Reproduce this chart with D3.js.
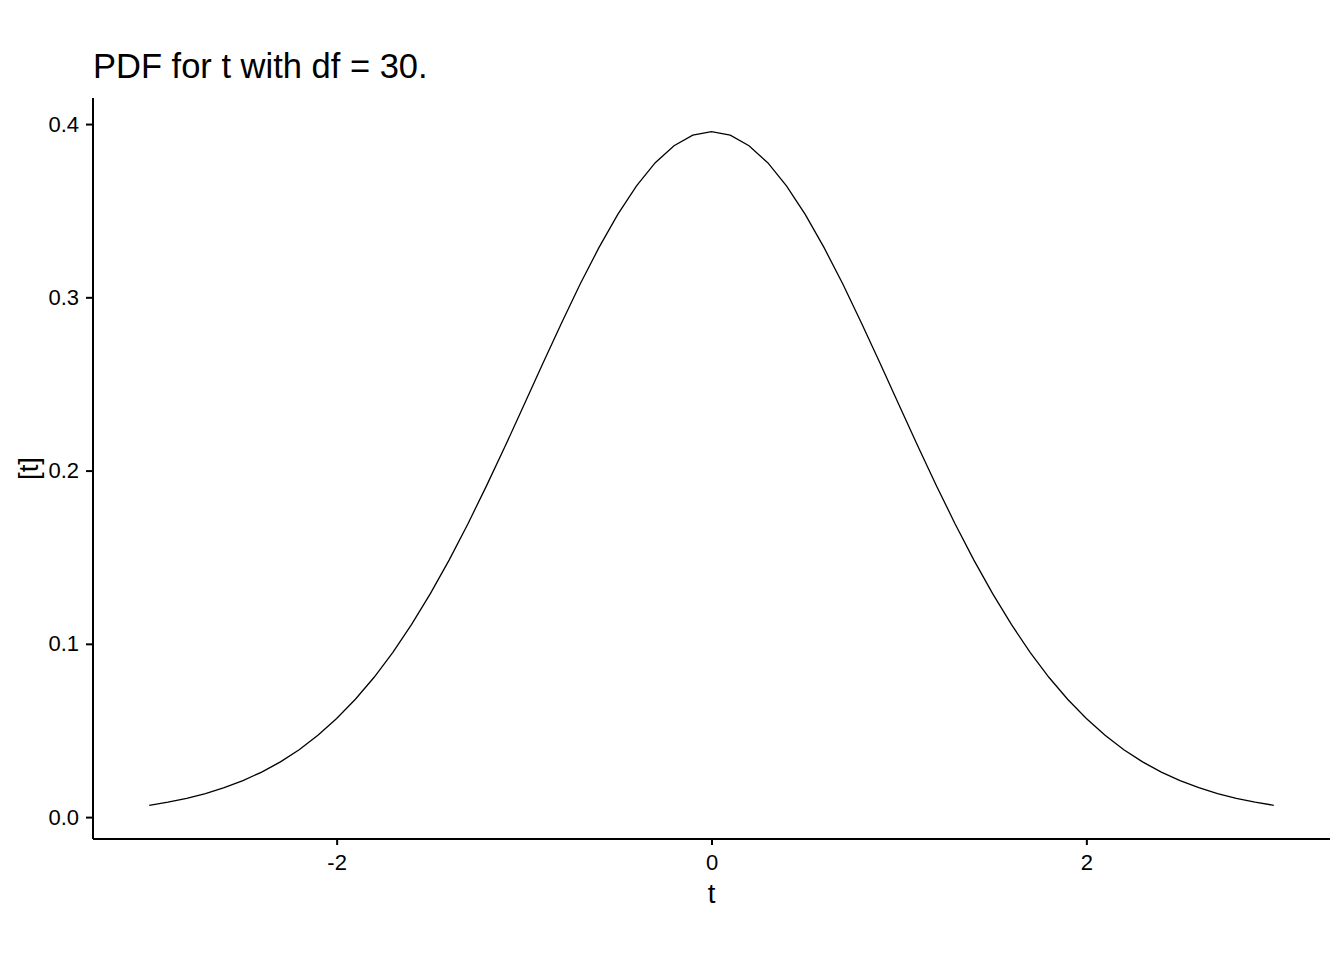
<!DOCTYPE html>
<html>
<head>
<meta charset="utf-8">
<script src="https://cdn.jsdelivr.net/npm/d3@7"></script>
<style>
  body { margin: 0; background: #fff; }
  text { font-family: "Liberation Sans", Arial, sans-serif; fill: #000; }
</style>
</head>
<body>
<div id="chart"></div>
<script>
// t values and density (df = 30)
var tValues = [-3.0, -2.9, -2.8, -2.7, -2.6, -2.5, -2.4, -2.3, -2.2, -2.1,
               -2.0, -1.9, -1.8, -1.7, -1.6, -1.5, -1.4, -1.3, -1.2, -1.1,
               -1.0, -0.9, -0.8, -0.7, -0.6, -0.5, -0.4, -0.3, -0.2, -0.1,
               0.0, 0.1, 0.2, 0.3, 0.4, 0.5, 0.6, 0.7, 0.8, 0.9,
               1.0, 1.1, 1.2, 1.3, 1.4, 1.5, 1.6, 1.7, 1.8, 1.9,
               2.0, 2.1, 2.2, 2.3, 2.4, 2.5, 2.6, 2.7, 2.8, 2.9, 3.0];
var density = [0.0068, 0.0086, 0.0108, 0.0136, 0.0170, 0.0211, 0.0260, 0.0319, 0.0389, 0.0472,
               0.0569, 0.0680, 0.0807, 0.0951, 0.1112, 0.1290, 0.1483, 0.1692, 0.1913, 0.2143,
               0.2380, 0.2618, 0.2852, 0.3078, 0.3288, 0.3479, 0.3643, 0.3777, 0.3875, 0.3936,
               0.3956, 0.3936, 0.3875, 0.3777, 0.3643, 0.3479, 0.3288, 0.3078, 0.2852, 0.2618,
               0.2380, 0.2143, 0.1913, 0.1692, 0.1483, 0.1290, 0.1112, 0.0951, 0.0807, 0.0680,
               0.0569, 0.0472, 0.0389, 0.0319, 0.0260, 0.0211, 0.0170, 0.0136, 0.0108, 0.0086, 0.0068];
var xTicks = [-2, 0, 2];
var yTicks = [0.0, 0.1, 0.2, 0.3, 0.4];
var title = "PDF for t with df = 30.";

var width = 1344,
    height = 960,
    mLeft = 93, mRight = 1330, mTop = 98, mBottom = 839;

var data = tValues.map(function(t, i) { return {t: t, y: density[i]}; });

// ggplot-style 5% expansion
function expand(ext) {
  var pad = (ext[1] - ext[0]) * 0.05;
  return [ext[0] - pad, ext[1] + pad];
}

var x = d3.scaleLinear().domain(expand(d3.extent(tValues))).range([mLeft, mRight]);
var y = d3.scaleLinear().domain(expand(d3.extent(density))).range([mBottom, mTop]);

var svg = d3.select("#chart").append("svg")
    .attr("width", width)
    .attr("height", height);

svg.append("path")
    .datum(data)
    .attr("fill", "none")
    .attr("stroke", "#000")
    .attr("stroke-width", 1.3)
    .attr("d", d3.line().x(d => x(d.t)).y(d => y(d.y)));

// axes
var xAxis = svg.append("g")
    .attr("transform", "translate(0," + mBottom + ")")
    .call(d3.axisBottom(x).tickValues(xTicks).tickSize(6).tickPadding(9).tickFormat(d => String(d)));
var yAxis = svg.append("g")
    .attr("transform", "translate(" + mLeft + ",0)")
    .call(d3.axisLeft(y).tickValues(yTicks).tickSize(7).tickPadding(7).tickFormat(d => d.toFixed(1)));

[xAxis, yAxis].forEach(function(g) {
  g.attr("font-size", null).attr("font-family", null);
  g.select(".domain").attr("stroke", "#000").attr("stroke-width", 2);
  g.selectAll(".tick line").attr("stroke", "#000").attr("stroke-width", 2);
  g.selectAll(".tick text")
      .style("font-size", "22px")
      .attr("fill", "#000");
});
xAxis.select(".domain").attr("d", "M" + mLeft + ",0H" + mRight);
yAxis.select(".domain").attr("d", "M0," + mBottom + "V" + mTop);

// titles
svg.append("text")
    .attr("x", mLeft)
    .attr("y", 78)
    .style("font-size", "34.5px")
    .text(title);

svg.append("text")
    .attr("x", (mLeft + mRight) / 2)
    .attr("y", 903)
    .attr("text-anchor", "middle")
    .style("font-size", "27.5px")
    .text("t");

svg.append("text")
    .attr("transform", "translate(38," + (mTop + mBottom) / 2 + ") rotate(-90)")
    .attr("text-anchor", "middle")
    .style("font-size", "27.5px")
    .text("[t]");
</script>
</body>
</html>
